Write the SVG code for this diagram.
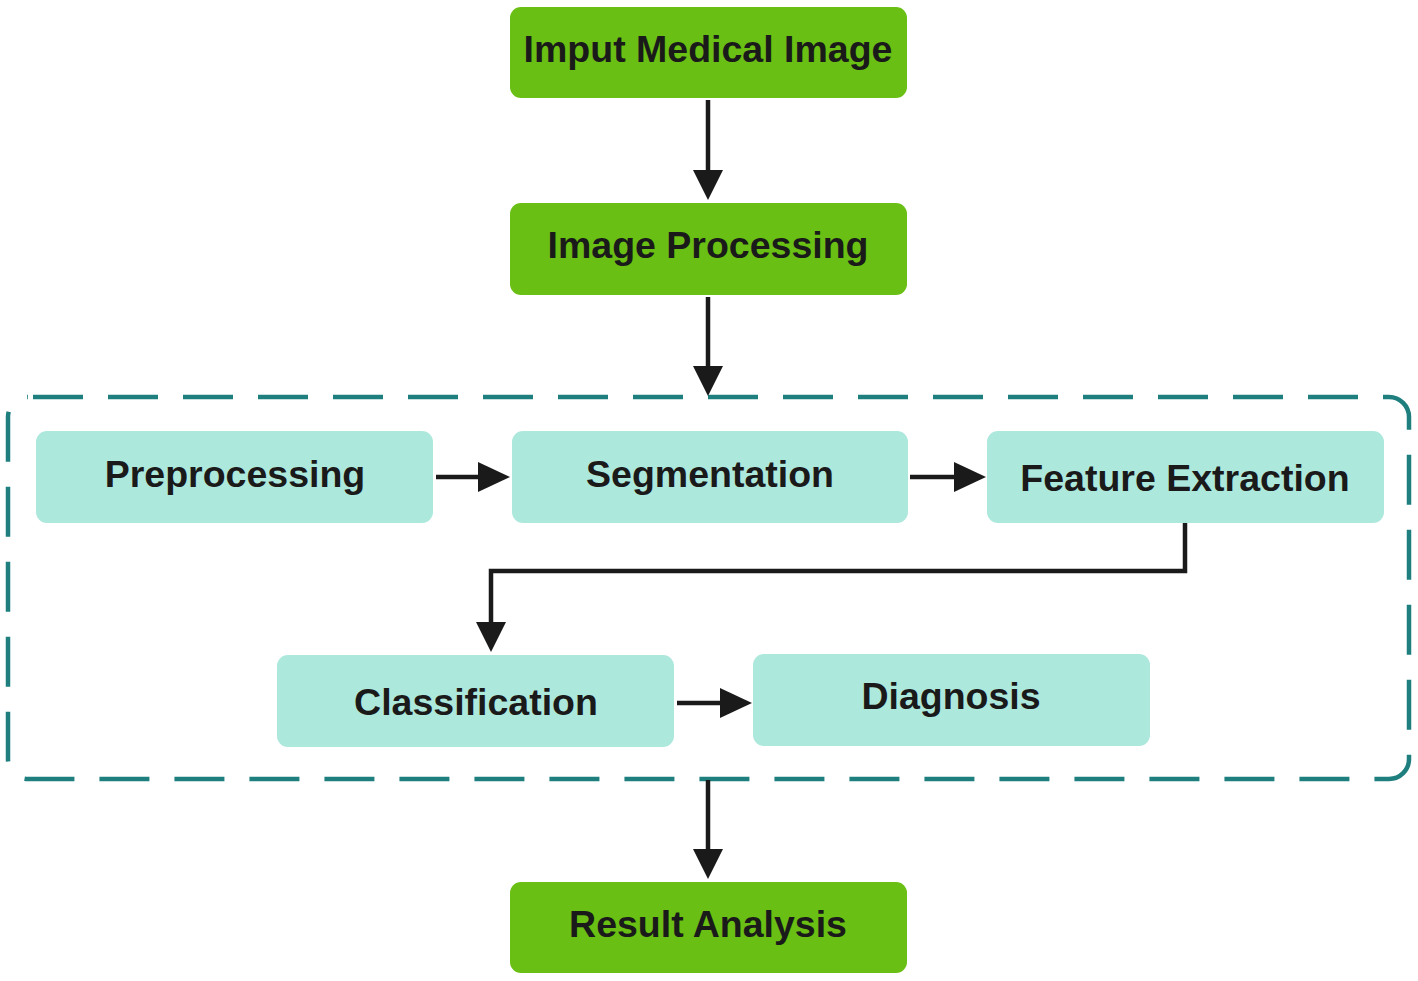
<svg xmlns="http://www.w3.org/2000/svg" width="1418" height="981" viewBox="0 0 1418 981">
<style>
.g{fill:#69bf13}
.t{fill:#ade8dd}
.lb{font-family:"Liberation Sans",Arial,sans-serif;font-weight:bold;font-size:37.5px;fill:#1a1a1a;text-anchor:middle}
.c{stroke:#1a1a1a;stroke-width:4.5;fill:none}
.ah{fill:#1a1a1a}
</style>
<rect width="1418" height="981" fill="#ffffff"/>
<rect id="group-box" x="8" y="397" width="1401" height="382" rx="20" fill="none" stroke="#1f7f7f" stroke-width="4.5" stroke-dasharray="50 25" stroke-dashoffset="-5"/>
<g id="connectors">
<line class="c" x1="708" y1="100" x2="708" y2="172"/>
<polygon class="ah" points="693,170 723,170 708,200"/>
<line class="c" x1="708" y1="297" x2="708" y2="368"/>
<polygon class="ah" points="693,366 723,366 708,396"/>
<line class="c" x1="436" y1="477" x2="480" y2="477"/>
<polygon class="ah" points="478,462 478,492 510,477"/>
<line class="c" x1="910" y1="477" x2="956" y2="477"/>
<polygon class="ah" points="954,462 954,492 986,477"/>
<polyline class="c" points="1185,523 1185,571 491,571 491,624"/>
<polygon class="ah" points="476,622 506,622 491,652"/>
<line class="c" x1="677" y1="703" x2="722" y2="703"/>
<polygon class="ah" points="720,688 720,718 752,703"/>
<line class="c" x1="708" y1="780" x2="708" y2="851"/>
<polygon class="ah" points="693,849 723,849 708,879"/>
</g>
<g id="input"><rect class="g" x="510" y="7" width="397" height="91" rx="11"/><text class="lb" x="708" y="62">Imput Medical Image</text></g>
<g id="image-processing"><rect class="g" x="510" y="203" width="397" height="92" rx="11"/><text class="lb" x="708" y="258">Image Processing</text></g>
<g id="preprocessing"><rect class="t" x="36" y="431" width="397" height="92" rx="11"/><text class="lb" x="235" y="487">Preprocessing</text></g>
<g id="segmentation"><rect class="t" x="512" y="431" width="396" height="92" rx="11"/><text class="lb" x="710" y="487">Segmentation</text></g>
<g id="feature-extraction"><rect class="t" x="987" y="431" width="397" height="92" rx="11"/><text class="lb" x="1185" y="491">Feature Extraction</text></g>
<g id="classification"><rect class="t" x="277" y="655" width="397" height="92" rx="11"/><text class="lb" x="476" y="715">Classification</text></g>
<g id="diagnosis"><rect class="t" x="753" y="654" width="397" height="92" rx="11"/><text class="lb" x="951" y="709">Diagnosis</text></g>
<g id="result-analysis"><rect class="g" x="510" y="882" width="397" height="91" rx="11"/><text class="lb" x="708" y="937">Result Analysis</text></g>
</svg>
